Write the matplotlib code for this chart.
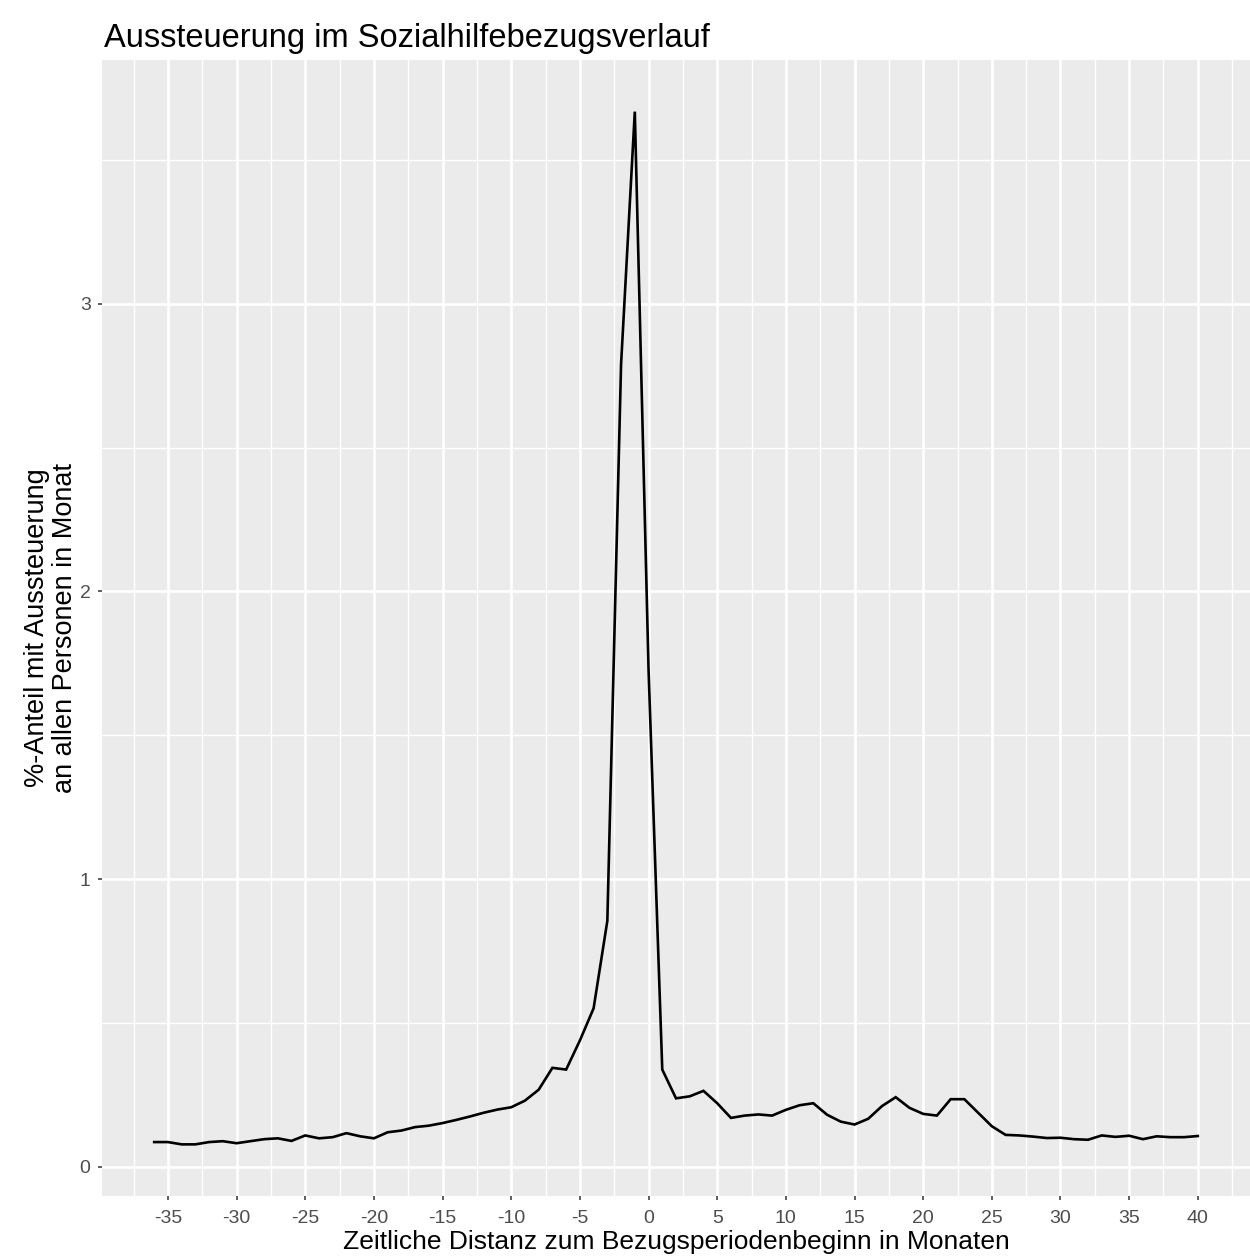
import matplotlib
matplotlib.use("Agg")
import matplotlib.pyplot as plt
import numpy as np

# months relative to start of benefit period
months = np.arange(-36, 41)
share = [
    0.086, 0.086, 0.078, 0.078, 0.086, 0.089, 0.082, 0.089, 0.096, 0.099,  # -36..-27
    0.090, 0.109, 0.099, 0.103, 0.117, 0.106, 0.099, 0.120, 0.126, 0.138,  # -26..-17
    0.143, 0.152, 0.163, 0.175, 0.188, 0.199, 0.207, 0.230, 0.268, 0.344,  # -16..-7
    0.338, 0.439, 0.551, 0.855, 2.790, 3.668, 1.730, 0.338, 0.238, 0.245,  # -6..3
    0.264, 0.221, 0.170, 0.178, 0.182, 0.178, 0.198, 0.214, 0.221, 0.181,  # 4..13
    0.157, 0.147, 0.167, 0.211, 0.242, 0.205, 0.184, 0.178, 0.235, 0.235,  # 14..23
    0.188, 0.141, 0.111, 0.109, 0.105, 0.100, 0.101, 0.096, 0.094, 0.109,  # 24..33
    0.104, 0.108, 0.096, 0.106, 0.103, 0.103, 0.107,                       # 34..40
]
x_major = np.arange(-35, 41, 5)
x_minor = np.arange(-37.5, 43, 5)
y_major = [0, 1, 2, 3]
y_minor = [0.5, 1.5, 2.5, 3.5]

plt.rcParams["font.family"] = ["Liberation Sans", "DejaVu Sans"]

W, H = 1250, 1259
fig = plt.figure(figsize=(W / 100, H / 100), dpi=100)
left, right, top, bottom = 102, 1250, 60, 1196
ax = fig.add_axes([left / W, 1 - bottom / H, (right - left) / W, (bottom - top) / H])
ax.set_facecolor("#EBEBEB")

# ggplot-like expansion of 5%
xr = months.max() - months.min()
ax.set_xlim(months.min() - 0.05 * xr, months.max() + 0.05 * xr)
yr = max(share) - min(share)
ax.set_ylim(min(share) - 0.05 * yr, max(share) + 0.05 * yr)

ax.set_xticks(x_major)
ax.set_xticks(x_minor, minor=True)
ax.set_yticks(y_major)
ax.set_yticks(y_minor, minor=True)
ax.set_xticklabels([str(v) for v in x_major])
ax.set_yticklabels([str(v) for v in y_major])

ax.grid(True, which="major", color="white", linewidth=1.9)
ax.grid(True, which="minor", color="white", linewidth=0.95)
ax.set_axisbelow(True)
for s in ax.spines.values():
    s.set_visible(False)

ax.tick_params(which="major", length=3.2, width=1.1, color="#333333",
               labelcolor="#4D4D4D", labelsize=14)
ax.tick_params(axis="x", pad=7)
ax.tick_params(axis="y", pad=5)
ax.tick_params(which="minor", length=0)

ax.plot(months, share, color="black", linewidth=1.9, solid_joinstyle="miter")

fig.text(104 / W, 1 - 47 / H, "Aussteuerung im Sozialhilfebezugsverlauf",
         fontsize=23.5, ha="left", va="baseline", color="black")
fig.text((left + right) / 2 / W, 1 - 1249 / H,
         "Zeitliche Distanz zum Bezugsperiodenbeginn in Monaten",
         fontsize=19, ha="center", va="baseline", color="black")
fig.text(51 / W, 1 - (top + bottom) / 2 / H,
         "%-Anteil mit Aussteuerung\nan allen Personen in Monat",
         fontsize=19.5, ha="center", va="center", rotation=90, color="black",
         linespacing=1.05)

fig.savefig("out.png", dpi=100)
